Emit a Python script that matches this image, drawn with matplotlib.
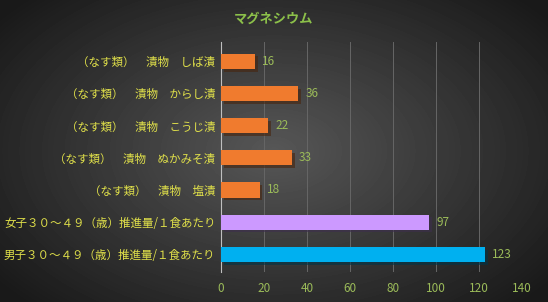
import numpy as np
import matplotlib.pyplot as plt
import matplotlib.patheffects as pe

plt.rcParams['font.family'] = ['Noto Sans CJK JP', 'DejaVu Sans']

# データ (下から順)
labels = ['男子３０～４９（歳）推進量/１食あたり',
          '女子３０～４９（歳）推進量/１食あたり',
          '（なす類）　漬物　塩漬',
          '（なす類）　漬物　ぬかみそ漬',
          '（なす類）　漬物　こうじ漬',
          '（なす類）　漬物　からし漬',
          '（なす類）　漬物　しば漬']
values = [123, 97, 18, 33, 22, 36, 16]
colors = ['#00b0f0', '#cc99ff', '#f07b2e', '#f07b2e', '#f07b2e', '#f07b2e', '#f07b2e']
xticks = [0, 20, 40, 60, 80, 100, 120, 140]

fig = plt.figure(figsize=(5.48, 3.02), dpi=100)

# 背景の放射グラデーション
bg = fig.add_axes([0, 0, 1, 1], zorder=-10)
xx, yy = np.meshgrid(np.linspace(-1, 1, 548), np.linspace(-1, 1, 302))
r = np.sqrt((xx * 0.9) ** 2 + (yy * 0.8) ** 2)
shade = np.clip(0.34 - 0.21 * r, 0.1, 0.35)
bg.imshow(shade, cmap='gray', vmin=0, vmax=1, aspect='auto', extent=[0, 1, 0, 1])
bg.axis('off')

ax = fig.add_axes([0.4033, 0.0993, 0.549, 0.762])
ax.set_facecolor('none')

y = np.arange(len(values))
bars = ax.barh(y, values, height=0.47, color=colors, zorder=3)
for b in bars:
    b.set_path_effects([pe.SimplePatchShadow(offset=(2, -2), alpha=0.6), pe.Normal()])

for yi, v in zip(y, values):
    ax.text(v + 3.2, yi, str(v), va='center', ha='left', color='#9bbb59', fontsize=8.5)

ax.set_xlim(0, 140)
ax.set_ylim(-0.55, 6.6)
ax.set_xticks(xticks)
ax.set_yticks(y)
ax.set_yticklabels(labels)
ax.tick_params(axis='x', colors='#9bbb59', labelsize=8.5, length=0, pad=7)
ax.tick_params(axis='y', colors='#e0e04a', labelsize=8.3, length=0, pad=4)
for lab in ax.get_yticklabels():
    lab.set_color('#e0e04a')
for lab in ax.get_xticklabels():
    lab.set_color('#9bbb59')

ax.grid(axis='x', color='#666666', linewidth=0.7, zorder=0)
for s in ['top', 'right', 'bottom']:
    ax.spines[s].set_visible(False)
ax.spines['left'].set_color('#bfbfbf')
ax.spines['left'].set_linewidth(0.8)

fig.text(0.5, 0.938, 'マグネシウム', ha='center', va='center', color='#8cc04a',
         fontsize=9.5, fontweight='bold')

fig.savefig('out.png', dpi=100)
